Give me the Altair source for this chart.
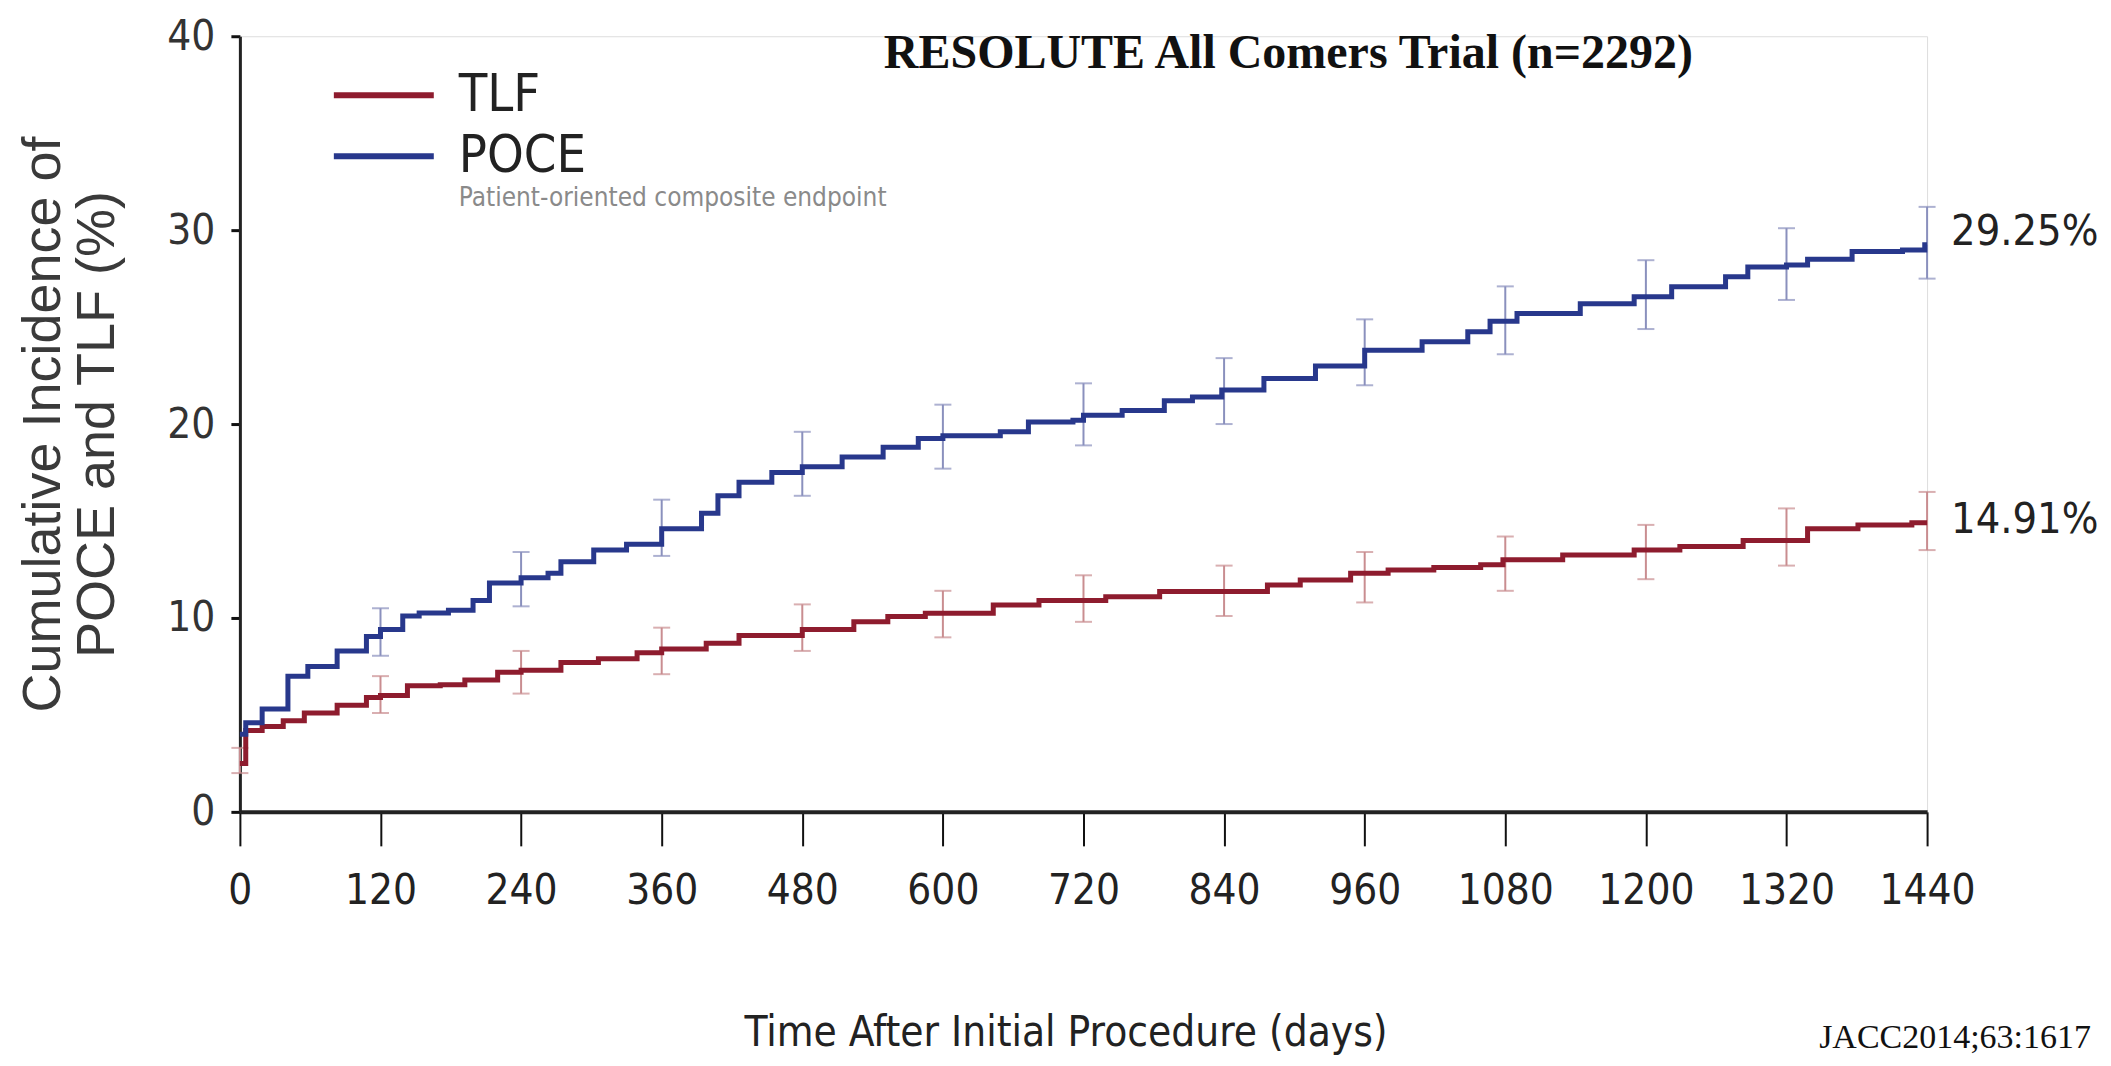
import altair as alt
import pandas as pd

# ---- data ----
poce_t = [0, 5, 19, 41, 58, 83, 108, 120, 139, 153, 178, 199, 213, 240, 263, 274, 302, 330, 360,
          394, 408, 426, 454, 480, 514, 549, 579, 600, 649, 673, 711, 720, 753, 789, 813, 838,
          874, 918, 960, 1009, 1048, 1067, 1090, 1144, 1190, 1222, 1268, 1287, 1320, 1338, 1376,
          1419, 1438, 1440]
poce_v = [4.0, 4.6, 5.3, 7.0, 7.5, 8.3, 9.05, 9.4, 10.1, 10.26, 10.4, 10.9, 11.8, 12.07, 12.3,
          12.9, 13.5, 13.8, 14.6, 15.4, 16.3, 17.0, 17.5, 17.8, 18.3, 18.8, 19.26, 19.4, 19.6,
          20.1, 20.2, 20.46, 20.7, 21.2, 21.4, 21.75, 22.35, 23.0, 23.8, 24.24, 24.76, 25.3, 25.7,
          26.2, 26.56, 27.08, 27.6, 28.1, 28.2, 28.5, 28.9, 28.97, 29.25, 29.25]

tlf_t = [0, 5, 19, 37, 55, 83, 108, 120, 143, 171, 192, 220, 240, 274, 306, 339, 360, 398, 426,
         480, 524, 553, 585, 643, 682, 739, 785, 877, 905, 948, 980, 1019, 1059, 1078, 1129, 1190,
         1229, 1283, 1338, 1381, 1427, 1440]
tlf_v = [2.5, 4.2, 4.4, 4.7, 5.1, 5.5, 5.9, 6.0, 6.5, 6.55, 6.8, 7.2, 7.3, 7.7, 7.9, 8.2, 8.4,
         8.7, 9.1, 9.4, 9.8, 10.07, 10.24, 10.67, 10.9, 11.1, 11.36, 11.7, 11.96, 12.3, 12.47,
         12.6, 12.75, 13.0, 13.25, 13.5, 13.68, 14.0, 14.6, 14.8, 14.91, 14.91]

bar_t = [120, 240, 360, 480, 600, 720, 840, 960, 1080, 1200, 1320, 1440]
poce_lo = [8.05, 10.6, 13.2, 16.3, 17.7, 18.9, 20.0, 22.0, 23.6, 24.9, 26.4, 27.5]
poce_hi = [10.5, 13.4, 16.1, 19.6, 21.0, 22.1, 23.4, 25.4, 27.1, 28.45, 30.1, 31.2]
tlf_bar_t = [0, 120, 240, 360, 480, 600, 720, 840, 960, 1080, 1200, 1320, 1440]
tlf_lo = [2.0, 5.1, 6.1, 7.1, 8.3, 9.0, 9.8, 10.1, 10.8, 11.4, 12.0, 12.7, 13.5]
tlf_hi = [3.3, 7.0, 8.3, 9.5, 10.7, 11.4, 12.2, 12.7, 13.4, 14.2, 14.8, 15.65, 16.5]

series_names = ["TLF", "POCE"]
end_values = [14.91, 29.25]
end_labels = ["14.91%", "29.25%"]
x_ticks = [0, 120, 240, 360, 480, 600, 720, 840, 960, 1080, 1200, 1320, 1440]
y_ticks = [0, 10, 20, 30, 40]

title_text = "RESOLUTE All Comers Trial (n=2292)"
x_title = "Time After Initial Procedure (days)"
y_title = ["Cumulative Incidence of", "POCE and TLF (%)"]
legend_note = "Patient-oriented composite endpoint"
source_note = "JACC2014;63:1617"

# ---- tables ----
curves = pd.concat([
    pd.DataFrame({"t": tlf_t, "v": tlf_v, "series": "TLF"}),
    pd.DataFrame({"t": poce_t, "v": poce_v, "series": "POCE"}),
], ignore_index=True)
bars = pd.concat([
    pd.DataFrame({"t": tlf_bar_t, "lo": tlf_lo, "hi": tlf_hi, "series": "TLF"}),
    pd.DataFrame({"t": bar_t, "lo": poce_lo, "hi": poce_hi, "series": "POCE"}),
], ignore_index=True)
ends = pd.DataFrame({"t": [1440, 1440], "v": end_values, "label": end_labels, "series": series_names})

NARROW = "DejaVu Sans Condensed, Liberation Sans Narrow, sans-serif"
SANS = "Liberation Sans, Arial, sans-serif"
SERIF = "Liberation Serif, Times New Roman, serif"
RED = "#8e1c2e"
BLUE = "#28388c"

xs = alt.Scale(domain=[0, 1440], nice=False, zero=False)
ys = alt.Scale(domain=[0, 40], nice=False)

x_axis = alt.Axis(values=x_ticks, format="d", tickSize=34, tickWidth=2, tickColor="#111",
                  domainWidth=4, domainColor="#222", labelFont=NARROW, labelFontSize=42,
                  labelColor="#222", labelPadding=45, labelBaseline="middle", labelFlush=False,
                  grid=False, title=x_title, titleFont=NARROW, titleFontSize=42,
                  titleFontWeight="normal", titleColor="#222", titleX=826, titleY=234,
                  titleBaseline="alphabetic")
y_axis = alt.Axis(values=y_ticks, format="d", tickSize=9, tickWidth=3, tickColor="#111",
                  domainWidth=3, domainColor="#222", labelFont=NARROW, labelFontSize=42,
                  labelColor="#333", labelPadding=16, grid=False, title=y_title,
                  titleFont=SANS, titleFontSize=54, titleFontWeight="normal",
                  titleColor="#3a3a3a", titleX=-196, titleY=388, titleBaseline="middle",
                  titleAlign="center", titleLineHeight=54, titleAngle=270)

bar_color = alt.Color("series:N", scale=alt.Scale(domain=series_names,
                                                   range=["#c98d90", "#8a90bd"]), legend=None)

rules = alt.Chart(bars).mark_rule(strokeWidth=2).encode(
    x=alt.X("t:Q", scale=xs, axis=x_axis),
    y=alt.Y("lo:Q", scale=ys, axis=y_axis),
    y2="hi:Q",
    color=bar_color,
)
caps_lo = alt.Chart(bars).mark_tick(orient="horizontal", size=17, thickness=2).encode(
    x=alt.X("t:Q", scale=xs), y=alt.Y("lo:Q", scale=ys), color=bar_color)
caps_hi = alt.Chart(bars).mark_tick(orient="horizontal", size=17, thickness=2).encode(
    x=alt.X("t:Q", scale=xs), y=alt.Y("hi:Q", scale=ys), color=bar_color)

lines = alt.Chart(curves).mark_line(interpolate="step-after", strokeWidth=5).encode(
    x=alt.X("t:Q", scale=xs),
    y=alt.Y("v:Q", scale=ys),
    color=alt.Color("series:N",
                    scale=alt.Scale(domain=series_names, range=[RED, BLUE]),
                    legend=alt.Legend(orient="none", legendX=116, legendY=31, title=None,
                                      symbolType="M-2,0H2", symbolSize=2500,
                                      symbolStrokeWidth=6, labelFont=NARROW,
                                      labelFontSize=52, labelColor="#222", labelOffset=47,
                                      rowPadding=7, padding=0)),
    order=alt.Order("t:Q"),
)

end_top = alt.Chart(ends[ends.series == "POCE"]).mark_text(
    align="left", baseline="middle", dx=24, dy=-13, font=NARROW, fontSize=43, color="#222"
).encode(x=alt.X("t:Q", scale=xs), y=alt.Y("v:Q", scale=ys), text="label:N")
end_bot = alt.Chart(ends[ends.series == "TLF"]).mark_text(
    align="left", baseline="middle", dx=24, dy=-3, font=NARROW, fontSize=43, color="#222"
).encode(x=alt.X("t:Q", scale=xs), y=alt.Y("v:Q", scale=ys), text="label:N")

title = alt.Chart(pd.DataFrame({"s": [title_text]})).mark_text(
    align="center", baseline="middle", font=SERIF, fontSize=48, fontWeight="bold", color="#111"
).encode(x=alt.value(1049), y=alt.value(18), text="s:N")
note = alt.Chart(pd.DataFrame({"s": [legend_note]})).mark_text(
    align="left", baseline="middle", font=NARROW, fontSize=26, color="#8a8a8a"
).encode(x=alt.value(219), y=alt.value(162), text="s:N")
source = alt.Chart(pd.DataFrame({"s": [source_note]})).mark_text(
    align="left", baseline="alphabetic", font=SERIF, fontSize=34, color="#111"
).encode(x=alt.value(1580), y=alt.value(1012), text="s:N")

chart = alt.layer(rules, caps_lo, caps_hi, lines, end_top, end_bot, title, note, source).resolve_scale(
    color="independent"
).properties(
    width=1688, height=776,
    autosize="none",
    padding={"left": 232, "top": 28, "right": 176, "bottom": 246},
).configure_view(stroke=None).configure(background="white")

chart.save("out.html", embed_options={"renderer": "svg", "actions": False})
